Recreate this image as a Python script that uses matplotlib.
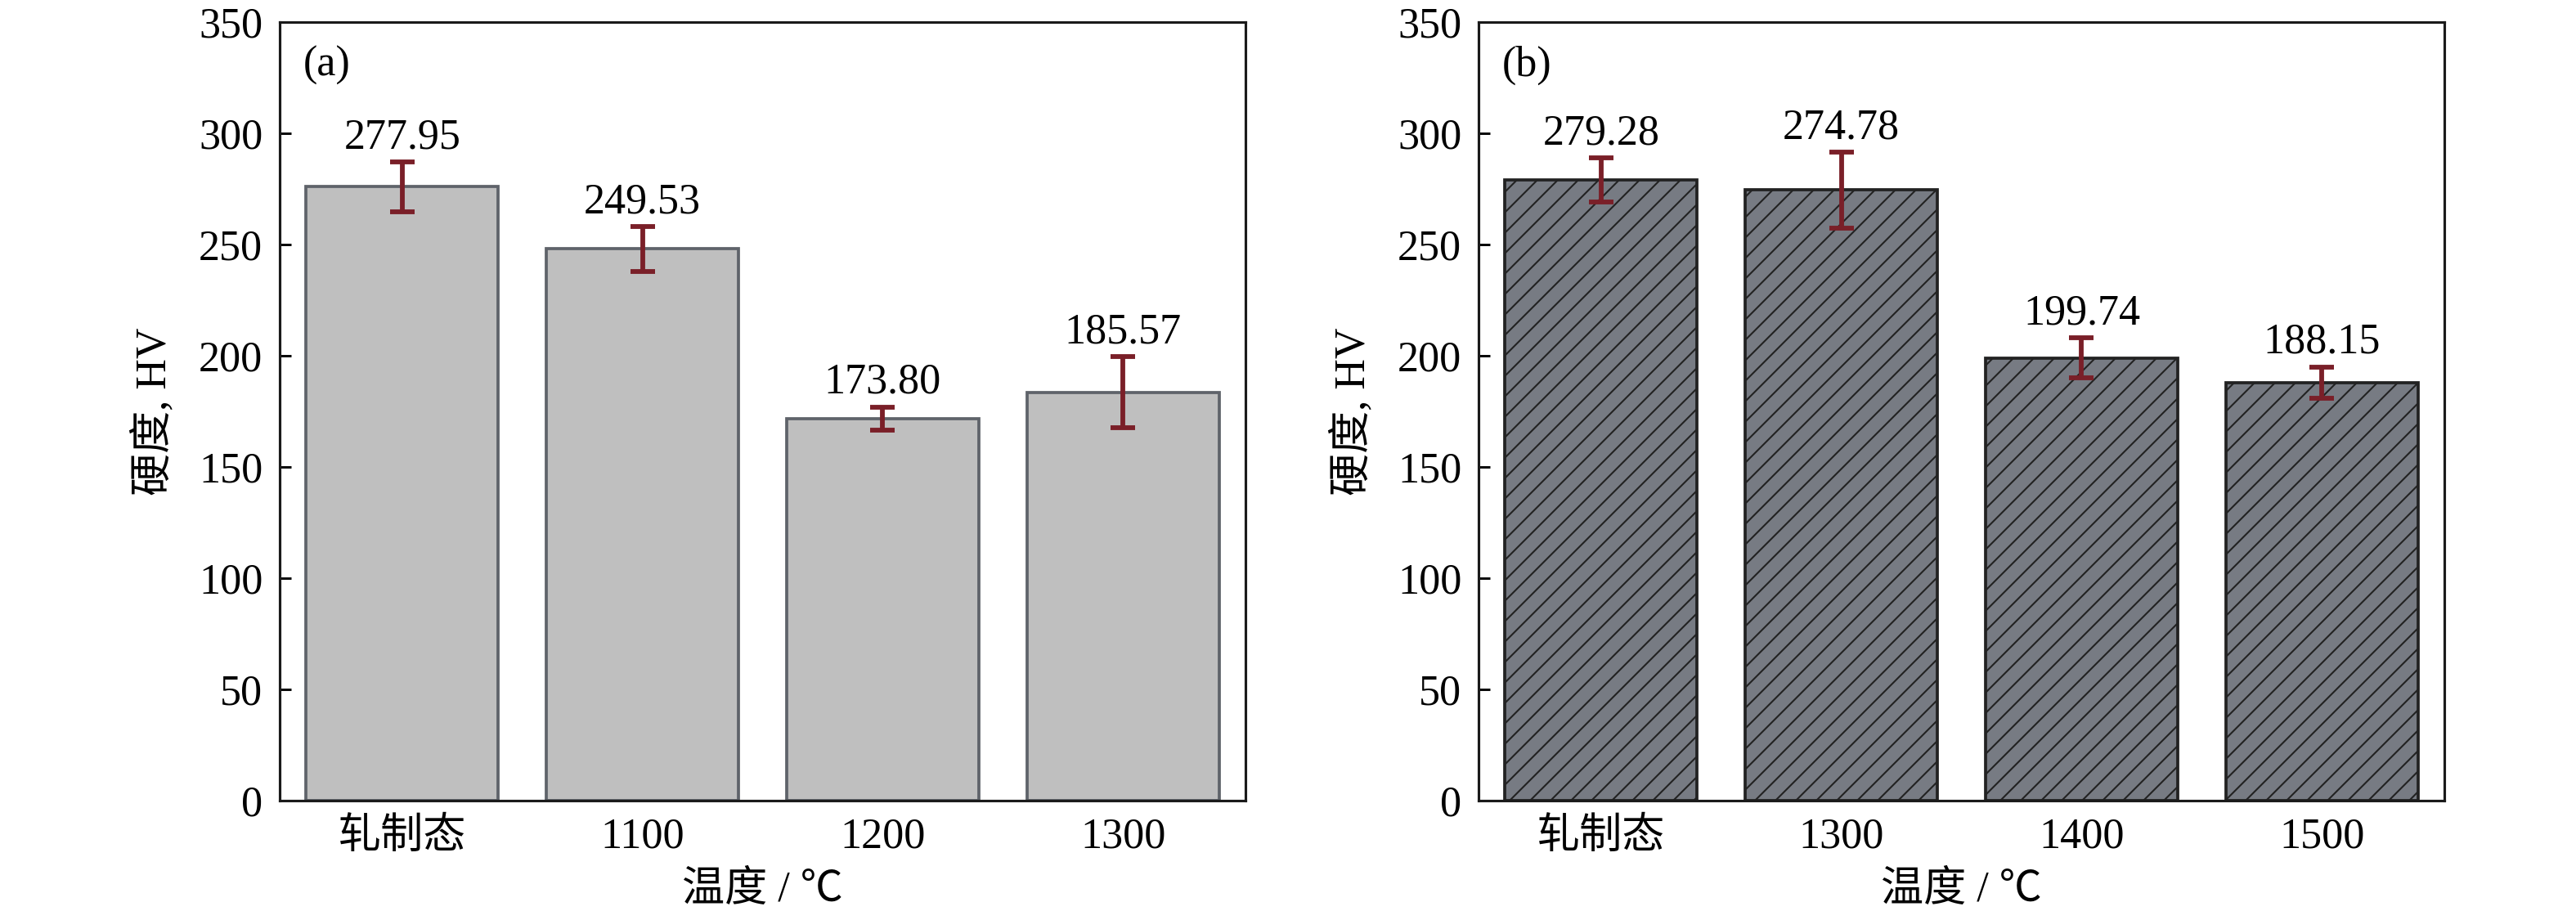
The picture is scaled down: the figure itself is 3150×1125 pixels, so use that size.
import matplotlib
matplotlib.use("Agg")
import matplotlib.pyplot as plt
import numpy as np

plt.rcParams['font.family'] = ['Liberation Serif', 'Noto Sans CJK SC', 'DejaVu Serif']
plt.rcParams['font.size'] = 25
plt.rcParams['hatch.linewidth'] = 1.0
plt.rcParams['hatch.color'] = '#111111'

# (a)
labels_a = ['轧制态', '1100', '1200', '1300']
values_a = [277.95, 249.53, 173.80, 185.57]
bar_a = [276.0, 248.0, 171.7, 183.5]
err_a = [11.2, 10.0, 5.3, 16.0]

# (b)
labels_b = ['轧制态', '1300', '1400', '1500']
values_b = [279.28, 274.78, 199.74, 188.15]
bar_b = [279.0, 274.5, 199.0, 188.0]
err_b = [10.0, 17.0, 9.0, 7.0]

err_color = '#7a1f28'

fig = plt.figure(figsize=(21, 7.5), dpi=150)
ax_a = fig.add_axes([0.1086, 0.1298, 0.3749, 0.8462])
ax_b = fig.add_axes([0.5740, 0.1298, 0.3749, 0.8462])


def draw(ax, labels, values, heights, errs, tag, face, edge, hatch):
    x = np.arange(len(labels))
    ax.bar(x, heights, width=0.8, color=face, edgecolor=edge, linewidth=1.8,
           hatch=hatch, zorder=2)
    ax.errorbar(x, heights, yerr=errs, fmt='none', ecolor=err_color,
                elinewidth=2.8, capsize=7, capthick=2.8, zorder=3)
    for xi, h, e, v in zip(x, heights, errs, values):
        ax.annotate(f'{v:.2f}', (xi, h + e), xytext=(0, 8),
                    textcoords='offset points', ha='center', va='baseline')
    ax.set_xlim(-0.51, 3.51)
    ax.set_ylim(0, 350)
    ax.set_yticks(np.arange(0, 351, 50))
    ax.set_xticks(x)
    ax.set_xticklabels(labels)
    ax.tick_params(direction='in', length=6.5, width=1.4, pad=10)
    for s in ax.spines.values():
        s.set_linewidth(1.5)
        s.set_color('#1a1a1a')
        s.set_zorder(4)
    ax.set_ylabel('硬度, HV', labelpad=14)
    ax.set_xlabel('温度 / ℃', labelpad=8)
    ax.text(0.024, 0.944, tag, transform=ax.transAxes, ha='left', va='center')


draw(ax_a, labels_a, values_a, bar_a, err_a, '(a)', '#bfbfbf', '#5f636a', None)
draw(ax_b, labels_b, values_b, bar_b, err_b, '(b)', '#777b83', '#222222', '//')

fig.savefig('out.png', dpi=150)
